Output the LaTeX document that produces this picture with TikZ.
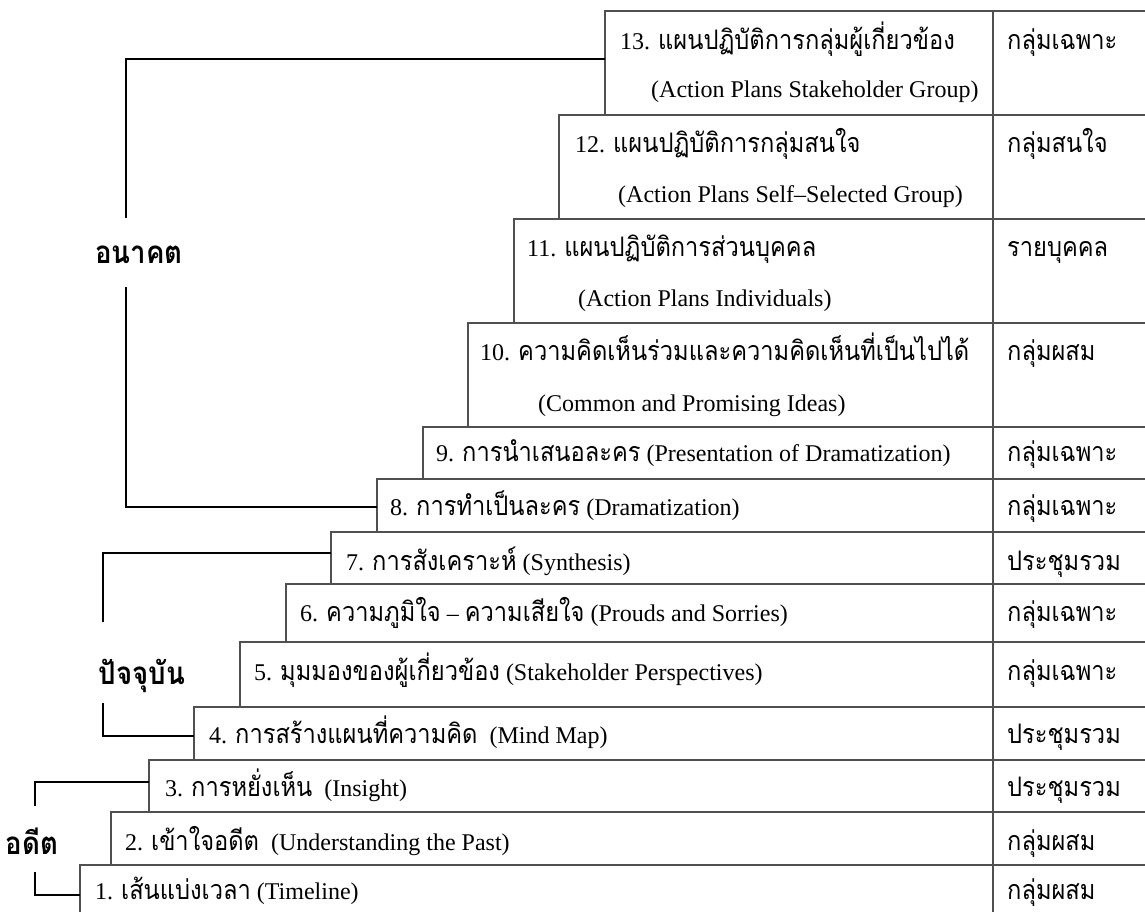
\documentclass[tikz,border=0pt]{standalone}
\usepackage{fontspec}
\setmainfont{Liberation Serif}
\newfontfamily\thai[Script=Thai, FakeStretch=0.88, Scale=1.12]{Loma}
\newcommand\thtxt[1]{{\thai #1}}
\definecolor{tablegray}{HTML}{505050}
\begin{document}
\begin{tikzpicture}[x=1pt,y=-1pt,
  rowbox/.style={draw=tablegray, line width=1.1pt, rectangle, anchor=north west, inner sep=0pt, outer sep=0pt},
  txt/.style={anchor=base west, inner sep=0pt, font=\fontsize{24}{28}\selectfont},
  bracket/.style={draw=black, line width=1.5pt},
  era/.style={inner sep=0pt, font=\thai\bfseries\fontsize{28}{34}\selectfont}]
\useasboundingbox (0,0) rectangle (1145,912);
\fill[white] (0,0) rectangle (1145,912);
\begin{scope}
\clip (0,0) rectangle (1145,912);
% rows: left, top, bottom
\foreach \n/\l/\t/\b in {1/80/865/918, 2/111/812/865, 3/149/760/812, 4/194/707/760,
  5/240/642/707, 6/286/584/642, 7/331/532/584, 8/377/479/532, 9/423/427/479,
  10/468/323/427, 11/514/219/323, 12/559/115/219, 13/605/11/115}
  {\pgfmathsetmacro\w{1150-\l}\pgfmathsetmacro\h{\b-\t}
   \node[rowbox, minimum width=\w pt, minimum height=\h pt] (r\n) at (\l,\t) {};}
\coordinate (colt) at (993,11);
\coordinate (colb) at (993,918);
\draw[tablegray, line width=1.1pt] (colt) -- (colb);
\end{scope}

% row texts
\node[txt] (t13a) at (620,50) {13. \thtxt{แผนปฏิบัติการกลุ่มผู้เกี่ยวข้อง}};
\node[txt] (t13b) at (651,98) {(Action Plans Stakeholder Group)};
\node[txt] (g13) at (1007,50) {\thtxt{กลุ่มเฉพาะ}};
\node[txt] (t12a) at (575,153) {12. \thtxt{แผนปฏิบัติการกลุ่มสนใจ}};
\node[txt] (t12b) at (618,203) {(Action Plans Self–Selected Group)};
\node[txt] (g12) at (1007,153) {\thtxt{กลุ่มสนใจ}};
\node[txt] (t11a) at (527,256) {11. \thtxt{แผนปฏิบัติการส่วนบุคคล}};
\node[txt] (t11b) at (578,306) {(Action Plans Individuals)};
\node[txt] (g11) at (1007,256) {\thtxt{รายบุคคล}};
\node[txt] (t10a) at (480,360) {10. \thtxt{ความคิดเห็นร่วมและความคิดเห็นที่เป็นไปได้}};
\node[txt] (t10b) at (538,411) {(Common and Promising Ideas)};
\node[txt] (g10) at (1007,360) {\thtxt{กลุ่มผสม}};
\node[txt] (t9) at (436,461) {9. \thtxt{การนำเสนอละคร} (Presentation of Dramatization)};
\node[txt] (g9) at (1007,461) {\thtxt{กลุ่มเฉพาะ}};
\node[txt] (t8) at (390,515) {8. \thtxt{การทำเป็นละคร} (Dramatization)};
\node[txt] (g8) at (1007,515) {\thtxt{กลุ่มเฉพาะ}};
\node[txt] (t7) at (346,570) {7. \thtxt{การสังเคราะห์} (Synthesis)};
\node[txt] (g7) at (1007,570) {\thtxt{ประชุมรวม}};
\node[txt] (t6) at (300,621) {6. \thtxt{ความภูมิใจ} – \thtxt{ความเสียใจ} (Prouds and Sorries)};
\node[txt] (g6) at (1007,621) {\thtxt{กลุ่มเฉพาะ}};
\node[txt] (t5) at (254,680) {5. \thtxt{มุมมองของผู้เกี่ยวข้อง} (Stakeholder Perspectives)};
\node[txt] (g5) at (1007,680) {\thtxt{กลุ่มเฉพาะ}};
\node[txt] (t4) at (209,743) {4. \thtxt{การสร้างแผนที่ความคิด}\ \ (Mind Map)};
\node[txt] (g4) at (1007,743) {\thtxt{ประชุมรวม}};
\node[txt] (t3) at (165,796) {3. \thtxt{การหยั่งเห็น}\ \ (Insight)};
\node[txt] (g3) at (1007,796) {\thtxt{ประชุมรวม}};
\node[txt] (t2) at (125,850) {2. \thtxt{เข้าใจอดีต}\ \ (Understanding the Past)};
\node[txt] (g2) at (1007,850) {\thtxt{กลุ่มผสม}};
\node[txt] (t1) at (95,899) {1. \thtxt{เส้นแบ่งเวลา} (Timeline)};
\node[txt] (g1) at (1007,899) {\thtxt{กลุ่มผสม}};

% era labels and brackets
\node[era] (future) at (139,255) {อนาคต};
\node[era] (present) at (142,676) {ปัจจุบัน};
\node[era] (past) at (32,841) {อดีต};
\coordinate (fa) at (126,218);
\coordinate (fb) at (126,287);
\coordinate (pa) at (103,622);
\coordinate (pb) at (103,703);
\coordinate (da) at (35,806);
\coordinate (db) at (35,872);
\draw[bracket] (r13.west |- 0,59) -| (fa);
\draw[bracket] (fb) |- (r8.west |- 0,507);
\draw[bracket] (r7.west |- 0,553) -| (pa);
\draw[bracket] (pb) |- (r4.west |- 0,736);
\draw[bracket] (r3.west |- 0,782) -| (da);
\draw[bracket] (db) |- (r1.west |- 0,895);
\end{tikzpicture}
\end{document}
